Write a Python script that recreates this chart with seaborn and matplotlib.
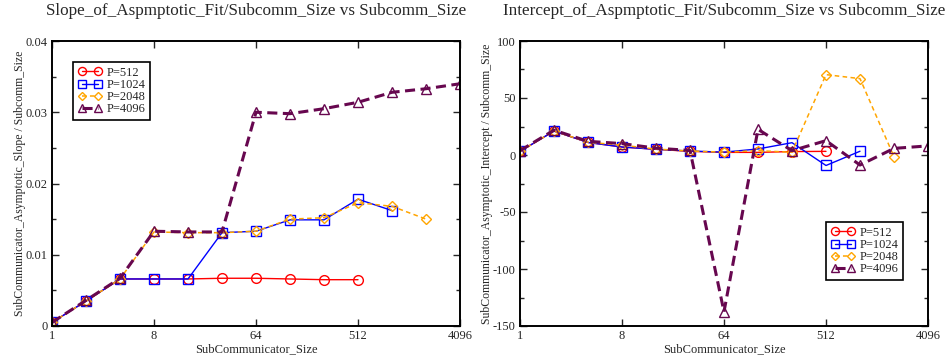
import numpy as np
import pandas as pd
import matplotlib
matplotlib.use("Agg")
import matplotlib.pyplot as plt
import seaborn as sns
from matplotlib.ticker import FixedLocator, FixedFormatter, MultipleLocator, NullLocator

# ---------------- data ----------------
sizes = [1, 2, 4, 8, 16, 32, 64, 128, 256, 512, 1024, 2048, 4096]
series_names = ["P=512", "P=1024", "P=2048", "P=4096"]

slope_p512 = [0.0005, 0.0035, 0.0066, 0.0066, 0.0066, 0.0067, 0.0067, 0.0066, 0.0065, 0.0065]
slope_p1024 = [0.0005, 0.0035, 0.0066, 0.0066, 0.0066, 0.0131, 0.0133, 0.0149, 0.0149, 0.0178, 0.0162]
slope_p2048 = [0.0005, 0.0035, 0.0066, 0.0132, 0.0131, 0.0131, 0.0133, 0.0150, 0.0152, 0.0173, 0.0168, 0.0150]
slope_p4096 = [0.0005, 0.0036, 0.0067, 0.0133, 0.0132, 0.0132, 0.0300, 0.0298, 0.0305, 0.0314, 0.0328, 0.0333, 0.0340]

icpt_p512 = [3.2, 21.0, 11.0, 7.0, 5.0, 3.2, 2.3, 2.3, 3.0, 3.2]
icpt_p1024 = [3.2, 21.0, 11.0, 7.0, 5.0, 3.5, 2.5, 5.3, 10.8, -9.2, 3.3]
icpt_p2048 = [3.2, 21.0, 11.2, 8.6, 5.2, 3.5, 2.5, 3.8, 2.4, 70.5, 67.0, -1.5]
icpt_p4096 = [3.8, 21.8, 12.0, 10.0, 6.0, 4.0, -137.5, 22.5, 3.8, 12.6, -8.8, 5.8, 8.0]

left_yticks = [0, 0.01, 0.02, 0.03, 0.04]
left_yticklabels = ["0", "0.01", "0.02", "0.03", "0.04"]
right_yticks = [-150, -100, -50, 0, 50, 100]
right_yticklabels = ["-150", "-100", "-50", "0", "50", "100"]
xticks = [1, 8, 64, 512, 4096]
xticklabels = ["1", "8", "64", "512", "4096"]

# ---------------- styles ----------------
colors = ["#ff0000", "#0000ff", "#ffa500", "#67074f"]
markers = ["o", "s", "D", "^"]
msizes = [7, 7, 5.5, 7]
lstyles = ["-", "-", (0, (3, 2.2)), (0, (3.3, 1.8))]
lwidths = [1.0, 1.0, 1.1, 2.2]

def make_df(vals_list):
    rows = []
    for name, vals in zip(series_names, vals_list):
        for s, v in zip(sizes, vals):
            rows.append({"size": s, "value": v, "series": name})
    return pd.DataFrame(rows)

df_slope = make_df([slope_p512, slope_p1024, slope_p2048, slope_p4096])
df_icpt = make_df([icpt_p512, icpt_p1024, icpt_p2048, icpt_p4096])

sns.set_style("ticks")
plt.rcParams["font.family"] = ["Liberation Serif", "DejaVu Serif"]

fig = plt.figure(figsize=(9.46, 3.6), dpi=100)
ax1 = fig.add_axes([52 / 946, 1 - 326 / 360, 408 / 946, 285 / 360])
ax2 = fig.add_axes([520 / 946, 1 - 326 / 360, 408 / 946, 285 / 360])

def draw(ax, df):
    for i, name in enumerate(series_names):
        sub = df[df["series"] == name]
        sns.lineplot(data=sub, x="size", y="value", ax=ax, color=colors[i],
                     marker=markers[i], markersize=msizes[i], markerfacecolor="none",
                     markeredgecolor=colors[i], markeredgewidth=1.0,
                     linestyle=lstyles[i], linewidth=lwidths[i], label=name,
                     estimator=None, sort=False)
    ax.set_xscale("log", base=2)
    ax.set_xlim(1, 4096)
    ax.xaxis.set_major_locator(FixedLocator(xticks))
    ax.xaxis.set_major_formatter(FixedFormatter(xticklabels))
    ax.xaxis.set_minor_locator(NullLocator())
    ax.tick_params(which="both", direction="in", top=True, right=True,
                   labelsize=9, length=5, width=1.0, pad=3)
    ax.tick_params(which="minor", length=3)
    for sp in ax.spines.values():
        sp.set_linewidth(1.4)
        sp.set_color("black")
    ax.set_xlabel("SubCommunicator_Size", fontsize=9, labelpad=1)

draw(ax1, df_slope)
ax1.set_ylim(0, 0.04)
ax1.yaxis.set_major_locator(FixedLocator(left_yticks))
ax1.yaxis.set_major_formatter(FixedFormatter(left_yticklabels))
ax1.yaxis.set_minor_locator(MultipleLocator(0.005))
ax1.set_ylabel("SubCommunicator_Asymptotic_Slope / Subcomm_Size", fontsize=8.5, labelpad=0)
ax1.set_title("Slope_of_Aspmptotic_Fit/Subcomm_Size vs Subcomm_Size", fontsize=12.3, pad=19)

draw(ax2, df_icpt)
ax2.set_ylim(-150, 100)
ax2.yaxis.set_major_locator(FixedLocator(right_yticks))
ax2.yaxis.set_major_formatter(FixedFormatter(right_yticklabels))
ax2.yaxis.set_minor_locator(MultipleLocator(25))
ax2.set_ylabel("SubCommunicator_Asymptotic_Intercept / Subcomm_Size", fontsize=8.5, labelpad=0)
ax2.set_title("Intercept_of_Aspmptotic_Fit/Subcomm_Size vs Subcomm_Size", fontsize=12.3, pad=19)

def legend(ax, loc_xy):
    leg = ax.legend(loc="upper left", bbox_to_anchor=loc_xy, bbox_transform=fig.transFigure,
                    fontsize=9, numpoints=2, handlelength=1.95, handletextpad=0.36,
                    labelspacing=0.02, borderpad=0.38, borderaxespad=0,
                    markerscale=0.83,
                    frameon=True, fancybox=False, framealpha=1)
    leg.get_frame().set_edgecolor("black")
    leg.get_frame().set_linewidth(1.2)

legend(ax1, (73 / 946, 1 - 62 / 360))
legend(ax2, (826 / 946, 1 - 222 / 360))

fig.savefig("out.png", dpi=100)
